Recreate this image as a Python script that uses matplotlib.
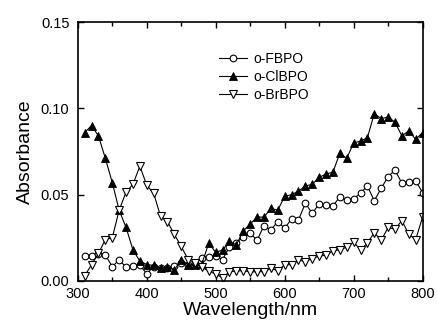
import matplotlib
matplotlib.use("Agg")
import matplotlib.pyplot as plt
import numpy as np
from matplotlib.ticker import MultipleLocator

plt.rcParams['font.family'] = ['Liberation Sans', 'DejaVu Sans']

wavelength = list(range(310, 801, 10))

fbpo = [0.0145, 0.0145, 0.0158, 0.0150, 0.0083, 0.0122, 0.0080, 0.0089, 0.0091, 0.0042,
        0.0083, 0.0077, 0.0073, 0.0087, 0.0102, 0.0093, 0.0102, 0.0134, 0.0137, 0.0145,
        0.0124, 0.0199, 0.0222, 0.0255, 0.0276, 0.0236, 0.0320, 0.0295, 0.0344, 0.0305,
        0.0360, 0.0353, 0.0450, 0.0392, 0.0446, 0.0440, 0.0435, 0.0487, 0.0470, 0.0473,
        0.0510, 0.0550, 0.0465, 0.0537, 0.0604, 0.0643, 0.0566, 0.0575, 0.0581, 0.0512]

clbpo = [0.086, 0.090, 0.084, 0.071, 0.057, 0.041, 0.031, 0.018, 0.0115, 0.0095,
         0.009, 0.0075, 0.008, 0.0065, 0.012, 0.0095, 0.009, 0.010, 0.022, 0.0165,
         0.018, 0.023, 0.021, 0.029, 0.033, 0.037, 0.037, 0.042, 0.041, 0.049,
         0.050, 0.052, 0.055, 0.056, 0.060, 0.062, 0.063, 0.074, 0.071, 0.080,
         0.081, 0.083, 0.097, 0.094, 0.095, 0.092, 0.084, 0.087, 0.082, 0.086]

brbpo = [0.003, 0.0095, 0.016, 0.024, 0.025, 0.041, 0.0515, 0.056, 0.0665, 0.0555,
         0.0508, 0.0375, 0.0344, 0.027, 0.020, 0.0124, 0.0105, 0.0079, 0.0057, 0.004,
         0.0018, 0.0054, 0.0057, 0.006, 0.0052, 0.0054, 0.0054, 0.0073, 0.006, 0.0093,
         0.0095, 0.0122, 0.0112, 0.013, 0.0143, 0.015, 0.0173, 0.0182, 0.0195, 0.0225,
         0.018, 0.022, 0.028, 0.0235, 0.031, 0.030, 0.035, 0.027, 0.024, 0.037]

fig = plt.figure(figsize=(4.37, 3.29), dpi=100)
ax = fig.add_axes([0.178, 0.146, 0.789, 0.787])

lw = 0.8
ax.plot(wavelength, fbpo, '-', color='black', lw=lw, marker='o', ms=4.8,
        mfc='white', mec='black', mew=0.8, label='o-FBPO')
ax.plot(wavelength, clbpo, '-', color='black', lw=lw, marker='^', ms=5.4,
        mfc='black', mec='black', mew=0.6, label='o-ClBPO')
ax.plot(wavelength, brbpo, '-', color='black', lw=lw, marker='v', ms=5.4,
        mfc='white', mec='black', mew=0.8, label='o-BrBPO')

ax.set_xlim(300, 800)
ax.set_ylim(0, 0.15)
ax.xaxis.set_major_locator(MultipleLocator(100))
ax.xaxis.set_minor_locator(MultipleLocator(50))
ax.yaxis.set_major_locator(MultipleLocator(0.05))
ax.yaxis.set_major_formatter(matplotlib.ticker.FormatStrFormatter('%.2f'))

ax.tick_params(which='both', direction='in', top=True, right=True, labelsize=10.5, width=1.0)
ax.tick_params(which='major', length=4)
ax.tick_params(which='minor', length=3)
ax.tick_params(axis='x', pad=4)
ax.tick_params(axis='y', pad=6)
for s in ax.spines.values():
    s.set_linewidth(1.2)

ax.set_xlabel('Wavelength/nm', fontsize=14, labelpad=1)
ax.set_ylabel('Absorbance', fontsize=14, labelpad=5)

leg = ax.legend(loc='upper left', bbox_to_anchor=(0.41, 0.885), frameon=False,
                fontsize=10, handlelength=2.0, handletextpad=0.5, labelspacing=0.3,
                borderpad=0, borderaxespad=0)

fig.savefig('out.png', dpi=100)
